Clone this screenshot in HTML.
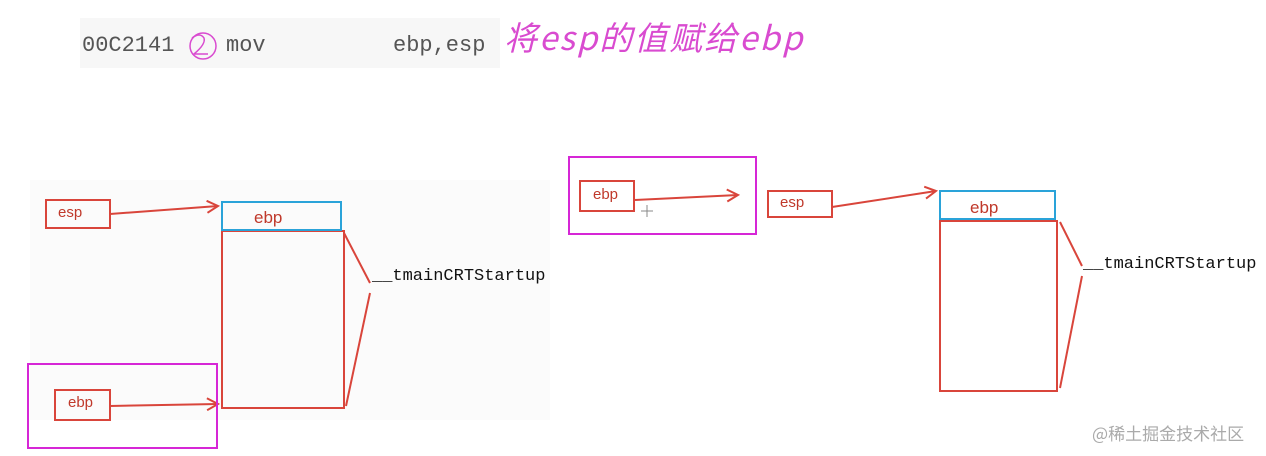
<!DOCTYPE html>
<html><head><meta charset="utf-8"><style>
body{margin:0;width:1266px;height:456px;background:#fff;overflow:hidden;position:relative;font-family:"Liberation Sans",sans-serif}
.t{position:absolute;white-space:nowrap}
</style></head><body>
<div style="position:absolute;left:80px;top:18px;width:420px;height:50px;background:#f7f7f7"></div>
<div style="position:absolute;left:30px;top:180px;width:520px;height:240px;background:#fbfbfb"></div>
<div class="t" style="left:82px;top:33px;font:22px 'Liberation Mono',monospace;color:#555">00C2141</div>
<div class="t" style="left:226px;top:33px;font:22px 'Liberation Mono',monospace;color:#555">mov</div>
<div class="t" style="left:393px;top:33px;font:22px 'Liberation Mono',monospace;color:#555">ebp,esp</div>
<div class="t" style="left:504px;top:12px;font:italic 33px 'Noto Sans CJK SC',sans-serif;color:#d94bd0;letter-spacing:2px">将esp的值赋给ebp</div>
<svg width="1266" height="456" style="position:absolute;left:0;top:0">
<defs><marker id="a" markerWidth="14" markerHeight="14" refX="12" refY="7" orient="auto" markerUnits="userSpaceOnUse"><path d="M1,1 L12,7 L1,13" fill="none" stroke="#d9453b" stroke-width="2"/></marker></defs>
<path d="M192,38 q8,-6 12,0 q2,6 -10,16 h14" fill="none" stroke="#d94bd0" stroke-width="1.5"/>
<circle cx="203" cy="46" r="13" fill="none" stroke="#d94bd0" stroke-width="1.5"/>
<g fill="none" stroke="#d9453b" stroke-width="2">
<rect x="46" y="200" width="64" height="28"/>
<rect x="222" y="231" width="122" height="177"/>
<line x1="110" y1="214" x2="218" y2="206" marker-end="url(#a)"/>
<polyline points="344,233 370,283"/><polyline points="370,293 346,406"/>
<rect x="55" y="390" width="55" height="30"/>
<line x1="110" y1="406" x2="218" y2="404" marker-end="url(#a)"/>
<rect x="580" y="181" width="54" height="30"/>
<line x1="634" y1="200" x2="738" y2="195" marker-end="url(#a)"/>
<rect x="768" y="191" width="64" height="26"/>
<line x1="832" y1="207" x2="936" y2="191" marker-end="url(#a)"/>
<rect x="940" y="221" width="117" height="170"/>
<polyline points="1060,222 1082,266"/><polyline points="1082,276 1060,388"/>
</g>
<g fill="none" stroke="#2aa3d9" stroke-width="2">
<rect x="222" y="202" width="119" height="28"/>
<rect x="940" y="191" width="115" height="28"/>
</g>
<g fill="none" stroke="#d626d6" stroke-width="2">
<rect x="28" y="364" width="189" height="84"/>
<rect x="569" y="157" width="187" height="77"/>
</g>
<path d="M647,205 v12 M641,211 h12" stroke="#888" stroke-width="1"/>
</svg>
<div class="t" style="left:58px;top:204px;font:15px 'Liberation Sans';color:#c0392b">esp</div>
<div class="t" style="left:254px;top:208px;font:17px 'Liberation Sans';color:#c0392b">ebp</div>
<div class="t" style="left:68px;top:394px;font:15px 'Liberation Sans';color:#c0392b">ebp</div>
<div class="t" style="left:593px;top:186px;font:15px 'Liberation Sans';color:#c0392b">ebp</div>
<div class="t" style="left:780px;top:194px;font:15px 'Liberation Sans';color:#c0392b">esp</div>
<div class="t" style="left:970px;top:198px;font:17px 'Liberation Sans';color:#c0392b">ebp</div>
<div class="t" style="left:372px;top:267px;font:17px 'Liberation Mono',monospace;color:#111">__tmainCRTStartup</div>
<div class="t" style="left:1083px;top:255px;font:17px 'Liberation Mono',monospace;color:#111">__tmainCRTStartup</div>
<div class="t" style="left:1092px;top:420px;font:17px 'Noto Sans CJK SC',sans-serif;color:#aaa">@稀土掘金技术社区</div>
</body></html>
